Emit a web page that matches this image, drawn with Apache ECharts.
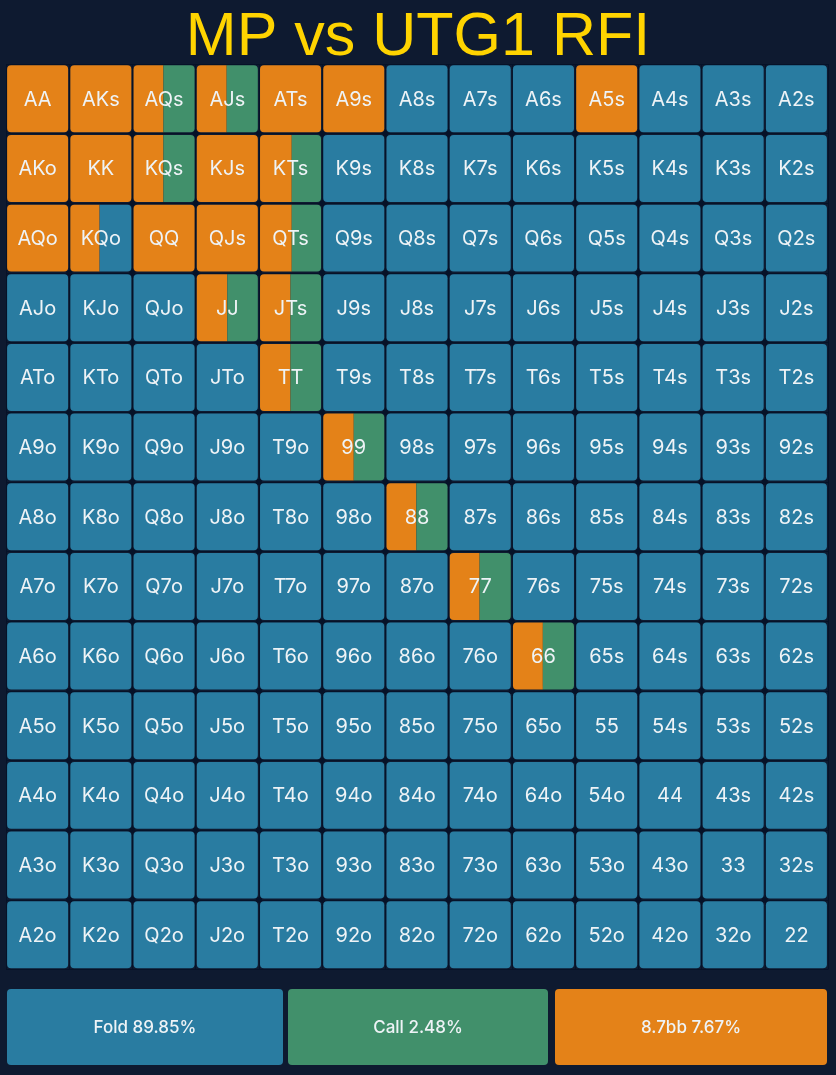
<!DOCTYPE html>
<html>
<head>
<meta charset="utf-8">
<script src="https://cdn.jsdelivr.net/npm/echarts@6/dist/echarts.min.js"></script>
<style>
html,body{margin:0;padding:0;background:#0e1a30;}
#chart{width:836px;height:1075px;}
</style>
</head>
<body>
<div id="chart"></div>
<script>
// ---- data ----
const ranks = ['A','K','Q','J','T','9','8','7','6','5','4','3','2'];
const titleText = 'MP vs UTG1 RFI';

// raise (8.7bb) frequency per cell, rows = first rank, cols = second rank
const raiseFreq = [
  [1, 1, 0.49, 0.49, 1, 1, 0, 0, 0, 1, 0, 0, 0],
  [1, 1, 0.49, 1, 0.52, 0, 0, 0, 0, 0, 0, 0, 0],
  [1, 0.48, 1, 1, 0.52, 0, 0, 0, 0, 0, 0, 0, 0],
  [0, 0, 0, 0.5, 0.5, 0, 0, 0, 0, 0, 0, 0, 0],
  [0, 0, 0, 0, 0.5, 0, 0, 0, 0, 0, 0, 0, 0],
  [0, 0, 0, 0, 0, 0.5, 0, 0, 0, 0, 0, 0, 0],
  [0, 0, 0, 0, 0, 0, 0.49, 0, 0, 0, 0, 0, 0],
  [0, 0, 0, 0, 0, 0, 0, 0.49, 0, 0, 0, 0, 0],
  [0, 0, 0, 0, 0, 0, 0, 0, 0.49, 0, 0, 0, 0],
  [0, 0, 0, 0, 0, 0, 0, 0, 0, 0, 0, 0, 0],
  [0, 0, 0, 0, 0, 0, 0, 0, 0, 0, 0, 0, 0],
  [0, 0, 0, 0, 0, 0, 0, 0, 0, 0, 0, 0, 0],
  [0, 0, 0, 0, 0, 0, 0, 0, 0, 0, 0, 0, 0]
];
// call frequency per cell
const callFreq = [
  [0, 0, 0.51, 0.51, 0, 0, 0, 0, 0, 0, 0, 0, 0],
  [0, 0, 0.51, 0, 0.48, 0, 0, 0, 0, 0, 0, 0, 0],
  [0, 0, 0, 0, 0.48, 0, 0, 0, 0, 0, 0, 0, 0],
  [0, 0, 0, 0.5, 0.5, 0, 0, 0, 0, 0, 0, 0, 0],
  [0, 0, 0, 0, 0.5, 0, 0, 0, 0, 0, 0, 0, 0],
  [0, 0, 0, 0, 0, 0.5, 0, 0, 0, 0, 0, 0, 0],
  [0, 0, 0, 0, 0, 0, 0.51, 0, 0, 0, 0, 0, 0],
  [0, 0, 0, 0, 0, 0, 0, 0.51, 0, 0, 0, 0, 0],
  [0, 0, 0, 0, 0, 0, 0, 0, 0.51, 0, 0, 0, 0],
  [0, 0, 0, 0, 0, 0, 0, 0, 0, 0, 0, 0, 0],
  [0, 0, 0, 0, 0, 0, 0, 0, 0, 0, 0, 0, 0],
  [0, 0, 0, 0, 0, 0, 0, 0, 0, 0, 0, 0, 0],
  [0, 0, 0, 0, 0, 0, 0, 0, 0, 0, 0, 0, 0]
];

const actionNames = ['Fold', 'Call', '8.7bb'];
const actionPcts = [89.85, 2.48, 7.67];

// ---- styles ----
const COL_FOLD = '#297ca1';
const COL_CALL = '#41906b';
const COL_RAISE = '#e48218';
const BG = '#0e1a30';
const LINE = '#061228';
const TXT = '#eef3f6';

function handLabel(r, c) {
  if (r === c) return ranks[r] + ranks[c];
  if (c > r) return ranks[r] + ranks[c] + 's';
  return ranks[c] + ranks[r] + 'o';
}

const cellData = [];
for (let r = 0; r < 13; r++) {
  for (let c = 0; c < 13; c++) {
    const ra = raiseFreq[r][c], ca = callFreq[r][c];
    const fo = Math.max(0, 1 - ra - ca);
    cellData.push([c, r, ra, ca, fo, handLabel(r, c)]);
  }
}

const chart = echarts.init(document.getElementById('chart'), null, {renderer: 'canvas'});

function renderCell(params, api) {
  const pt = api.coord([api.value(0), api.value(1)]);
  const sz = api.size([1, 1]);
  const w = sz[0] - 2.2, h = sz[1] - 2.7;
  const x0 = pt[0] - w / 2, y0 = pt[1] - h / 2;
  const parts = [
    [api.value(2), COL_RAISE],
    [api.value(3), COL_CALL],
    [api.value(4), COL_FOLD]
  ].filter(p => p[0] > 0.001);
  const R = 4;
  const children = [];
  let cx = x0;
  parts.forEach((p, i) => {
    const pw = (i === parts.length - 1) ? (x0 + w - cx) : w * p[0];
    const first = i === 0, last = i === parts.length - 1;
    children.push({
      type: 'rect',
      shape: {x: cx, y: y0, width: pw, height: h,
        r: [first ? R : 0, last ? R : 0, last ? R : 0, first ? R : 0]},
      style: {fill: p[1]}
    });
    cx += pw;
  });
  children.push({
    type: 'text',
    style: {
      x: pt[0], y: pt[1] + 1,
      text: api.value(5),
      fill: TXT,
      font: '400 20px Inter, "Noto Sans", sans-serif',
      align: 'center', verticalAlign: 'middle'
    }
  });
  return {type: 'group', children: children};
}

// small junction dots at the interior corners of the grid
function renderDot(params, api) {
  const c = api.value(0), r = api.value(1);
  if (c === 0 || r === 0) return null;
  const pt = api.coord([c, r]);
  const sz = api.size([1, 1]);
  return {
    type: 'circle',
    shape: {cx: pt[0] - sz[0] / 2, cy: pt[1] - sz[1] / 2, r: 3},
    style: {fill: LINE}
  };
}

// legend boxes (layout)
const legendBoxes = [[7, 276], [288, 260], [555, 272]];
const legendColors = [COL_FOLD, COL_CALL, COL_RAISE];
const graphics = [];
actionNames.forEach((n, i) => {
  const b = legendBoxes[i];
  graphics.push({
    type: 'rect',
    shape: {x: b[0], y: 989, width: b[1], height: 76, r: 4},
    style: {fill: legendColors[i]}
  });
  graphics.push({
    type: 'text',
    style: {
      x: b[0] + b[1] / 2, y: 1028,
      text: n + ' ' + actionPcts[i].toFixed(2) + '%',
      fill: TXT,
      font: '500 17px Inter, "Noto Sans", sans-serif',
      align: 'center', verticalAlign: 'middle'
    }
  });
});

chart.setOption({
  backgroundColor: BG,
  animation: false,
  title: {
    text: titleText,
    left: 'center',
    top: 3,
    textStyle: {
      color: '#ffd400',
      fontFamily: '"Liberation Sans", Arial, sans-serif',
      fontWeight: 'normal',
      fontSize: 61
    }
  },
  grid: {left: 6, right: 8, top: 64, bottom: 105.5},
  xAxis: {
    type: 'category',
    data: ranks,
    axisLabel: {show: false},
    axisTick: {show: false},
    axisLine: {show: false},
    splitLine: {show: true, interval: 0, lineStyle: {color: LINE, width: 1}}
  },
  yAxis: {
    type: 'category',
    data: ranks,
    inverse: true,
    axisLabel: {show: false},
    axisTick: {show: false},
    axisLine: {show: false},
    splitLine: {show: true, interval: 0, lineStyle: {color: LINE, width: 1}}
  },
  series: [{
    type: 'custom',
    renderItem: renderDot,
    encode: {x: 0, y: 1},
    data: cellData,
    z: 1
  }, {
    type: 'custom',
    renderItem: renderCell,
    encode: {x: 0, y: 1},
    data: cellData,
    z: 2
  }],
  graphic: graphics
});
</script>
</body>
</html>
